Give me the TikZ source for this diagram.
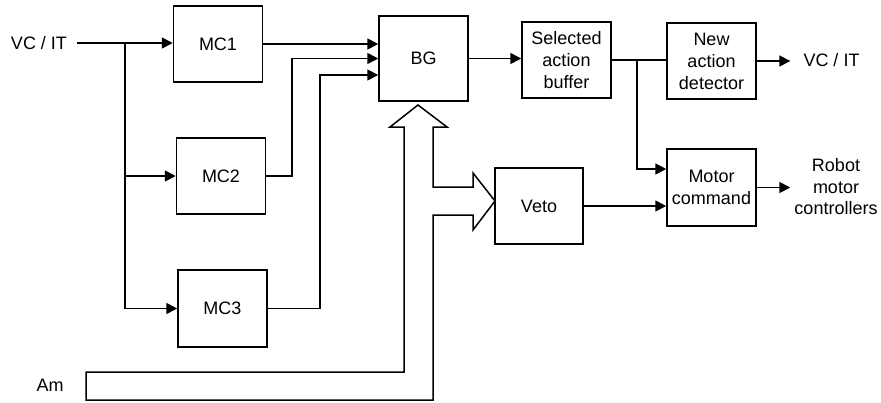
\documentclass[tikz,border=0pt]{standalone}
\usepackage{fontspec}
\setmainfont{Liberation Sans}
\usetikzlibrary{arrows.meta,calc}
\begin{document}
\begin{tikzpicture}[x=1pt,y=-1pt,
  blk/.style={draw,line width=1.5pt,minimum width=89pt,minimum height=76pt,inner sep=0pt,align=center,font=\fontsize{18}{22}\selectfont},
  lbl/.style={inner sep=0pt,align=center,font=\fontsize{18}{21.5}\selectfont},
  arr/.style={line width=1.7pt,-{Triangle[length=11pt,width=11pt]}},
  ln/.style={line width=1.7pt},
  hollow/.style={draw,line width=1.5pt,line join=miter,fill=white}]
\useasboundingbox (0,0) rectangle (881,402);
% nodes
\node[lbl] (vcin) at (39,43) {VC / IT};
\node[blk] (mc1) at (218,44) {MC1};
\node[blk] (mc2) at (221,176) {MC2};
\node[blk,minimum height=77pt] (mc3) at (222.5,308.5) {MC3};
\node[blk,minimum height=85pt] (bg) at (423.5,58.5) {BG};
\node[blk] (sab) at (566.5,60) {Selected\\action\\buffer};
\node[blk] (nad) at (711.5,61) {New\\action\\detector};
\node[blk,minimum height=77pt] (mcmd) at (711.5,187.5) {Motor\\command};
\node[blk,minimum width=88pt] (veto) at (539,206) {Veto};
\node[lbl] (vcout) at (831.5,60) {VC / IT};
\node[lbl] (robot) at (836,187) {Robot\\motor\\controllers};
\node[lbl] (am) at (50,385) {Am};
% hollow arrows (Am to BG and Veto)
\path[hollow] (418,105) -- (447,127) -- (433,127) -- (433,187) -- (473,187) -- (473,173)
  -- (495,201) -- (473,230) -- (473,215) -- (433,215) -- (433,400) -- (86,400)
  -- (86,372) -- (404,372) -- (404,127) -- (390,127) -- cycle;
% connectors
\coordinate (j1) at (125,43);
\draw[ln] ([xshift=10pt]vcin.east) -- (j1);
\draw[arr] (j1) -- (j1 -| mc1.west);
\draw[arr] (j1) |- (mc2.west);
\draw[arr] (j1) |- (mc3.west);
\coordinate (bgin3) at ($(bg.west)+(0,16.5)$);
\draw[arr] (mc1.east) -- (mc1.east -| bg.west);
\draw[arr] (mc2.east) -- ++(26,0) |- (bg.west);
\draw[arr] (mc3.east) -- ++(52,0) |- (bgin3);
\draw[arr] (bg.east) -- (bg.east -| sab.west);
\draw[ln] (sab.east) -- (sab.east -| nad.west);
\coordinate (j2) at ($(sab.east)+(25,0)$);
\coordinate (mcin1) at ($(mcmd.west)+(0,-18.5)$);
\draw[arr] (j2) |- (mcin1);
\draw[arr] (veto.east) -- (veto.east -| mcmd.west);
\draw[arr,shorten >=13pt] (nad.east) -- (nad.east -| vcout.west);
\draw[arr,shorten >=4pt] (mcmd.east) -- (mcmd.east -| robot.west);
\end{tikzpicture}
\end{document}
